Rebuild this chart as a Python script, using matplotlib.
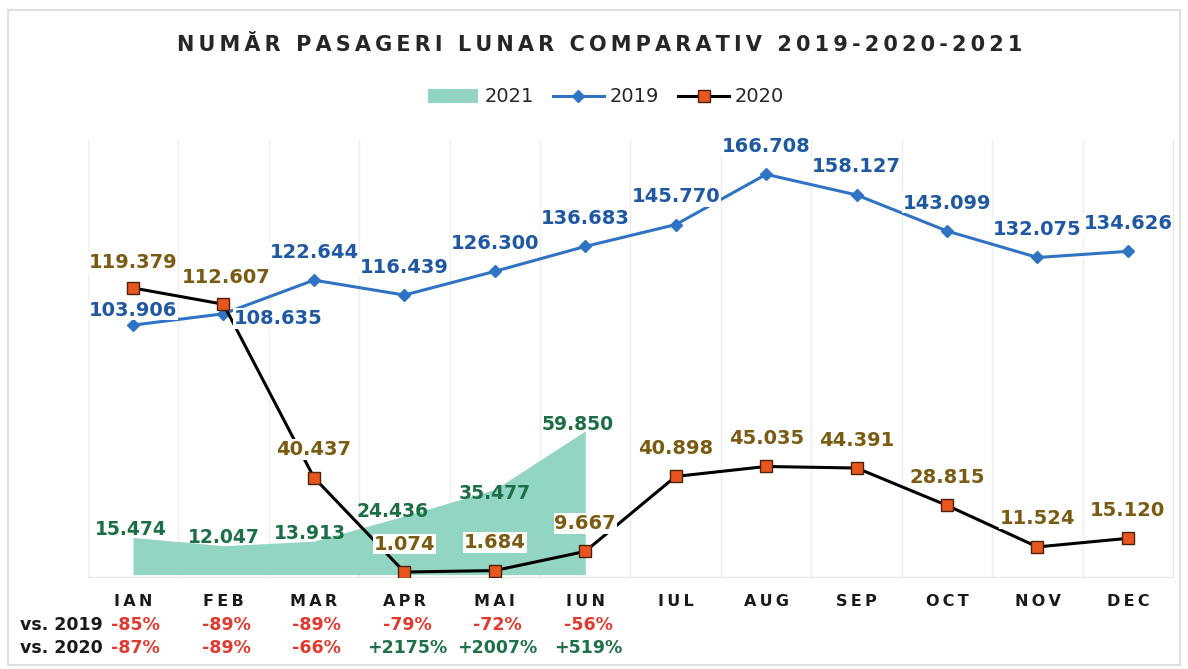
import numpy as np
import matplotlib.pyplot as plt
from matplotlib.lines import Line2D
from matplotlib.patches import Patch, Rectangle
import matplotlib.transforms as mtransforms

# passengers per month, in thousands (labels use "." as thousands separator)
months = ["IAN", "FEB", "MAR", "APR", "MAI", "IUN", "IUL", "AUG", "SEP", "OCT", "NOV", "DEC"]
pax_2019 = [103.906, 108.635, 122.644, 116.439, 126.300, 136.683, 145.770, 166.708, 158.127, 143.099, 132.075, 134.626]
pax_2020 = [119.379, 112.607, 40.437, 1.074, 1.684, 9.667, 40.898, 45.035, 44.391, 28.815, 11.524, 15.120]
pax_2021 = [15.474, 12.047, 13.913, 24.436, 35.477, 59.850]
vs_2019 = ["-85%", "-89%", "-89%", "-79%", "-72%", "-56%"]
vs_2020 = ["-87%", "-89%", "-66%", "+2175%", "+2007%", "+519%"]

# label offsets in pixels (dx, dy)
off_2019 = [(0, 15), (55, -5)] + [(0, 28)] * 10
off_2020 = [(0, 25), (3, 27)] + [(0, 28)] * 10
off_2021 = [(-2, 8), (0, 8), (-4, 8), (-12, 4), (0, -4), (-8, 6)]

c2019 = "#2F74C4"
c2019_txt = "#1F58A3"
c2020_txt = "#7B5B12"
c2020_mk = "#E8551E"
c2021 = "#93D5C3"
c2021_txt = "#1B6E45"
c_neg = "#E03A2F"
c_pos = "#1E7048"

def spaced(s):
    return "\u2009".join(s)

fig = plt.figure(figsize=(11.88, 6.69), dpi=100)
fig.patch.set_facecolor("white")
fig.patches.append(Rectangle((8 / 1188, 4 / 669), 1172 / 1188, 655 / 669, transform=fig.transFigure,
                             fill=False, edgecolor="#D9D9D9", linewidth=1.2))

ax = fig.add_axes([0.0739, 0.1375, 0.9136, 0.6532])
ax.set_axisbelow(True)
x = np.arange(len(months))
x21 = np.arange(len(pax_2021))

ax.fill_between(x21, pax_2021, color=c2021, linewidth=0, zorder=1)
ax.plot(x, pax_2019, color=c2019, lw=2.2, marker="D", ms=6.5, zorder=3)
ax.plot(x, pax_2020, color="black", lw=2.2, marker="s", ms=8.5,
        markerfacecolor=c2020_mk, markeredgecolor="#4A2208", markeredgewidth=1, zorder=4)

bold = dict(fontsize=14, fontweight="bold", ha="center", va="center")
for i, v in enumerate(pax_2021):
    ax.annotate(f"{v:.3f}", (i, v), xytext=off_2021[i], textcoords="offset pixels",
                color=c2021_txt, zorder=5, **{**bold, "fontsize": 13.5})
for i, v in enumerate(pax_2019):
    ax.annotate(f"{v:.3f}", (i, v), xytext=off_2019[i], textcoords="offset pixels", color=c2019_txt,
                bbox=dict(facecolor="white", edgecolor="none", pad=0.5), zorder=6, **bold)
for i, v in enumerate(pax_2020):
    ax.annotate(f"{v:.3f}", (i, v), xytext=off_2020[i], textcoords="offset pixels", color=c2020_txt,
                bbox=dict(facecolor="white", edgecolor="none", pad=0.5), zorder=6, **bold)

ax.set_xlim(-0.5, 11.5)
ax.set_ylim(-1, 181)
ax.set_yticks([])
ax.set_xticks(x)
ax.set_xticklabels([spaced(m) for m in months], fontsize=11.5, fontweight="bold", color="#1A1A1A")
ax.tick_params(axis="x", length=0, pad=12)
ax.set_xticks(np.arange(-0.5, 12, 1), minor=True)
ax.tick_params(axis="x", which="minor", length=0)
ax.grid(which="minor", axis="x", color="#EEEEEE", lw=1)
for s in ["top", "left"]:
    ax.spines[s].set_visible(False)
for s in ["bottom", "right"]:
    ax.spines[s].set_color("#E6E6E6")

fig.text(0.505, 1 - 45 / 669, spaced("NUMĂR PASAGERI LUNAR COMPARATIV 2019-2020-2021"),
         fontsize=15, fontweight="bold", color="#262626", ha="center", va="center")

handles = [Patch(facecolor=c2021, edgecolor="none"),
           Line2D([], [], color=c2019, lw=2.2, marker="D", ms=6.5),
           Line2D([], [], color="black", lw=2.2, marker="s", ms=8.5,
                  markerfacecolor=c2020_mk, markeredgecolor="#4A2208")]
fig.legend(handles, ["2021", "2019", "2020"], loc="center", bbox_to_anchor=(0.51, 1 - 97 / 669),
           ncol=3, frameon=False, fontsize=14, handlelength=2.6, columnspacing=1.0, handletextpad=0.3,
           labelcolor="#262626")

# comparison rows below the axis
tr = mtransforms.blended_transform_factory(ax.transData, fig.transFigure)
rows = [("vs. 2019", vs_2019, 1 - 625 / 669), ("vs. 2020", vs_2020, 1 - 648 / 669)]
for name, vals, yy in rows:
    fig.text(20 / 1188, yy, name, fontsize=12.5, fontweight="bold", color="#1A1A1A", va="center", ha="left")
    for i, t in enumerate(vals):
        ax.text(i + 0.03, yy, t, transform=tr, fontsize=12.5, fontweight="bold",
                color=c_pos if t.startswith("+") else c_neg, ha="center", va="center")

fig.savefig("out.png", dpi=100)
